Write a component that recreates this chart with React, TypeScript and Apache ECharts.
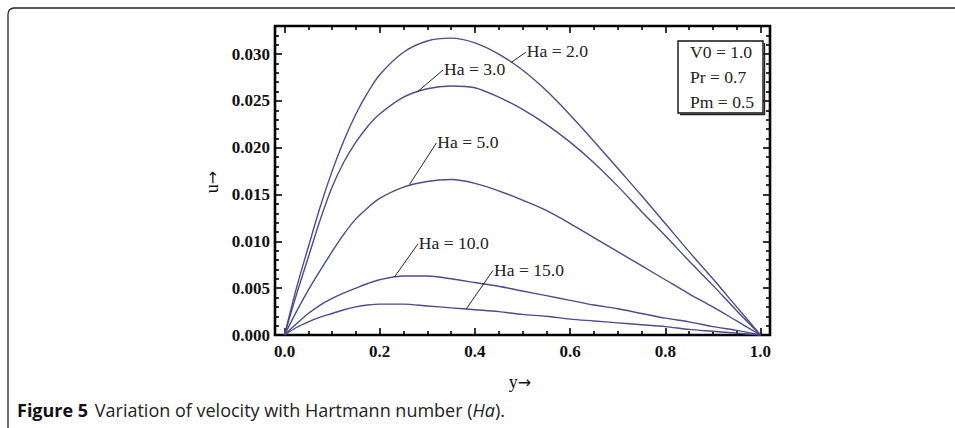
import React, { useEffect, useRef } from "react";
import * as echarts from "echarts";

// ---------- data ----------
const yCoord = [0, 0.025, 0.05, 0.075, 0.1, 0.125, 0.15, 0.175, 0.2, 0.25, 0.3, 0.35, 0.4, 0.45, 0.5, 0.55, 0.6, 0.65, 0.7, 0.75, 0.8, 0.85, 0.9, 0.95, 1.0];
const uHa2 = [0, 0.005, 0.0094, 0.0137, 0.0175, 0.0208, 0.0236, 0.0259, 0.0278, 0.0302, 0.0314, 0.0317, 0.0312, 0.03, 0.0283, 0.0261, 0.0235, 0.0207, 0.0178, 0.0149, 0.0119, 0.0089, 0.006, 0.003, 0];
const uHa3 = [0, 0.0043, 0.0083, 0.0123, 0.0158, 0.0185, 0.0206, 0.0223, 0.0236, 0.0254, 0.0263, 0.0266, 0.0264, 0.0254, 0.0241, 0.0225, 0.0206, 0.0184, 0.0159, 0.0132, 0.0106, 0.0079, 0.0053, 0.0026, 0];
const uHa5 = [0, 0.0025, 0.0048, 0.0069, 0.0089, 0.0108, 0.0124, 0.0136, 0.0146, 0.0158, 0.0164, 0.0166, 0.0162, 0.0154, 0.0144, 0.0133, 0.0119, 0.0104, 0.0089, 0.0074, 0.0059, 0.0044, 0.003, 0.0015, 0];
const uHa10 = [0, 0.0012, 0.0023, 0.0032, 0.0039, 0.0045, 0.005, 0.0055, 0.0059, 0.0063, 0.0063, 0.006, 0.0056, 0.0052, 0.0047, 0.0042, 0.0037, 0.0032, 0.0028, 0.0023, 0.0018, 0.0014, 0.0009, 0.0005, 0];
const uHa15 = [0, 0.0008, 0.0014, 0.0019, 0.0023, 0.0027, 0.003, 0.0032, 0.0033, 0.0033, 0.0031, 0.0029, 0.0027, 0.0025, 0.0022, 0.002, 0.0017, 0.0015, 0.0013, 0.0011, 0.0009, 0.0006, 0.0004, 0.0002, 0];

const seriesNames = ["Ha = 2.0", "Ha = 3.0", "Ha = 5.0", "Ha = 10.0", "Ha = 15.0"];
const seriesValues = [uHa2, uHa3, uHa5, uHa10, uHa15];

// label leader lines, in data coordinates: [from point on curve, to text start]
const labelLeaders = [
  [[0.476, 0.0291], [0.507, 0.0302]],
  [[0.28, 0.026], [0.333, 0.0283]],
  [[0.263, 0.0161], [0.319, 0.0205]],
  [[0.231, 0.0062], [0.28, 0.0097]],
  [[0.382, 0.0028], [0.438, 0.0069]],
];

const xMajorTicks = [0, 0.2, 0.4, 0.6, 0.8, 1.0];
const xMinorTicks = [0.05, 0.1, 0.15, 0.25, 0.3, 0.35, 0.45, 0.5, 0.55, 0.65, 0.7, 0.75, 0.85, 0.9, 0.95];
const yMajorTicks = [0, 0.005, 0.01, 0.015, 0.02, 0.025, 0.03];
const yMinorTicks: number[] = [];
for (let i = 1; i <= 32; i++) if (i % 5 !== 0) yMinorTicks.push(i / 1000);

const legendLines = ["V0 = 1.0", "Pr = 0.7", "Pm = 0.5"];
const xTitle = "y";
const yTitle = "u";
const ARROW = "→";

// ---------- styles ----------
const SERIF = "'Liberation Serif', 'Times New Roman', serif";
const SANS = "'Open Sans', 'Noto Sans', sans-serif";
const LINE_COLOR = "#4b4b8e";
const X_MIN = -0.02, X_MAX = 1.02, Y_MIN = 0, Y_MAX = 0.033;
const GRID = { left: 275, top: 26, width: 495, height: 309 };

function xAxisDef(gridIndex: number, position: "top" | "bottom", values: number[], len: number, labels: boolean) {
  return {
    type: "value",
    gridIndex,
    position,
    min: X_MIN,
    max: X_MAX,
    axisLine: { show: false, onZero: false },
    splitLine: { show: false },
    axisTick: { show: true, inside: true, length: len, customValues: values, lineStyle: { color: "#000", width: 1.6 } },
    axisLabel: labels
      ? { show: true, customValues: values, formatter: (v: number) => v.toFixed(1), margin: 8, color: "#111", fontFamily: SERIF, fontSize: 17, fontWeight: "bold" }
      : { show: false },
  };
}
function yAxisDef(gridIndex: number, position: "left" | "right", values: number[], len: number, labels: boolean) {
  return {
    type: "value",
    gridIndex,
    position,
    min: Y_MIN,
    max: Y_MAX,
    axisLine: { show: false, onZero: false },
    splitLine: { show: false },
    axisTick: { show: true, inside: true, length: len, customValues: values, lineStyle: { color: "#000", width: 1.6 } },
    axisLabel: labels
      ? { show: true, customValues: values, formatter: (v: number) => v.toFixed(3), margin: 5, color: "#111", fontFamily: SERIF, fontSize: 17, fontWeight: "bold" }
      : { show: false },
  };
}

export default function App() {
  const ref = useRef<HTMLDivElement>(null);
  useEffect(() => {
    if (!ref.current) return;
    const chart = echarts.init(ref.current, undefined, { renderer: "svg" });
    const option: any = {
      animation: false,
      backgroundColor: "#fff",
      grid: [
        { ...GRID, show: true, borderColor: "#000", borderWidth: 2.6, backgroundColor: "transparent", containLabel: false, outerBoundsMode: "none" },
        { ...GRID, show: false, containLabel: false, outerBoundsMode: "none" },
      ],
      xAxis: [
        xAxisDef(0, "bottom", xMajorTicks, 7, true),
        xAxisDef(0, "top", xMajorTicks, 7, false),
        xAxisDef(1, "bottom", xMinorTicks, 4, false),
        xAxisDef(1, "top", xMinorTicks, 4, false),
      ],
      yAxis: [
        yAxisDef(0, "left", yMajorTicks, 7, true),
        yAxisDef(0, "right", yMajorTicks, 7, false),
        yAxisDef(1, "left", yMinorTicks, 4, false),
        yAxisDef(1, "right", yMinorTicks, 4, false),
      ],
      series: seriesNames.map((name, i) => ({
        name,
        type: "line",
        xAxisIndex: 0,
        yAxisIndex: 0,
        data: yCoord.map((y, j) => [y, seriesValues[i][j]]),
        showSymbol: false,
        smooth: 0.3,
        lineStyle: { color: LINE_COLOR, width: 1.4 },
        z: 3,
      })),
    };
    chart.setOption(option);

    const graphics: any[] = [
      {
        type: "rect",
        shape: { x: 8, y: 8, width: 1200, height: 600, r: 6 },
        style: { fill: "none", stroke: "#222", lineWidth: 1.3 },
        silent: true,
      },
      {
        type: "rect",
        shape: { x: 678, y: 41, width: 85, height: 72 },
        style: { fill: "#fff", stroke: "#111", lineWidth: 1.4 },
        z: 10,
      },
      {
        type: "polyline",
        shape: { points: [[764.5, 43], [764.5, 114.5], [680, 114.5]] },
        style: { fill: "none", stroke: "#222", lineWidth: 1.4 },
        z: 10,
      },
      ...legendLines.map((t, i) => ({
        type: "text",
        x: 690,
        y: 53 + i * 25,
        scaleX: 1.1,
        z: 11,
        style: { text: t, font: `16px ${SERIF}`, fill: "#222", textVerticalAlign: "middle", textAlign: "left" },
      })),
      {
        type: "text",
        x: 212,
        y: 182,
        rotation: Math.PI / 2,
        style: {
          text: `{t|${yTitle}}{a|${ARROW}}`,
          textAlign: "center",
          textVerticalAlign: "middle",
          rich: { t: { fontFamily: SERIF, fontSize: 18, fill: "#111" }, a: { fontFamily: "'DejaVu Sans', sans-serif", fontSize: 16, fill: "#111" } },
        },
      },
      {
        type: "text",
        x: 520,
        y: 382,
        style: {
          text: `{t|${xTitle}}{a|${ARROW}}`,
          textAlign: "center",
          textVerticalAlign: "middle",
          rich: { t: { fontFamily: SERIF, fontSize: 18, fill: "#111" }, a: { fontFamily: "'DejaVu Sans', sans-serif", fontSize: 16, fill: "#111" } },
        },
      },
      {
        type: "text",
        x: 17,
        y: 410,
        style: {
          text: "{b|Figure 5}  {n|Variation of velocity with Hartmann number (}{i|Ha}{n|).}",
          textVerticalAlign: "middle",
          rich: {
            b: { fontFamily: SANS, fontSize: 18, fontWeight: "bold", fill: "#111" },
            n: { fontFamily: SANS, fontSize: 18, fill: "#222" },
            i: { fontFamily: SANS, fontSize: 18, fontStyle: "italic", fill: "#222" },
          },
        },
      },
    ];

    labelLeaders.forEach((seg, i) => {
      const p1 = chart.convertToPixel({ xAxisIndex: 0, yAxisIndex: 0 }, seg[0]) as number[];
      const p2 = chart.convertToPixel({ xAxisIndex: 0, yAxisIndex: 0 }, seg[1]) as number[];
      graphics.push({
        type: "line",
        z: 5,
        shape: { x1: p1[0], y1: p1[1], x2: p2[0], y2: p2[1] },
        style: { stroke: "#222", lineWidth: 1 },
      });
      graphics.push({
        type: "text",
        x: p2[0] + 1,
        y: p2[1],
        scaleX: 1.1,
        z: 6,
        style: { text: seriesNames[i], font: `16px ${SERIF}`, fill: "#222", textAlign: "left", textVerticalAlign: "middle" },
      });
    });

    chart.setOption({ graphic: graphics });
    return () => chart.dispose();
  }, []);
  return <div ref={ref} style={{ position: "fixed", left: 0, top: 0, width: 955, height: 428 }} />;
}
